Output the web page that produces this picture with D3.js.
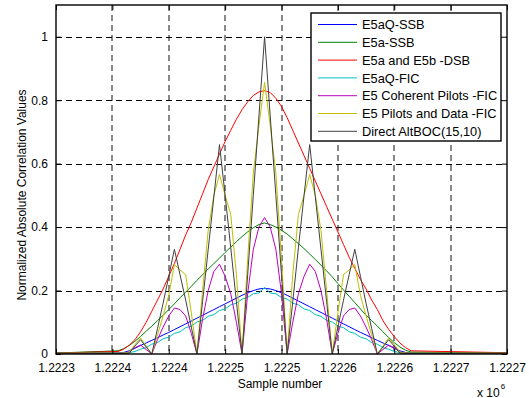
<!DOCTYPE html>
<html>
<head>
<meta charset="utf-8">
<script src="https://cdn.jsdelivr.net/npm/d3@7"></script>
<style>
  html, body { margin: 0; padding: 0; background: #fff; }
  svg { display: block; font-family: "Liberation Sans", Arial, Helvetica, sans-serif; }
</style>
</head>
<body>
<svg id="chart" width="529" height="398"></svg>
<script>
// Sample numbers (x axis); dense around the correlation peak
const sampleNumbers = [
  1222300,
  1222355, 1222360, 1222365, 1222370, 1222375, 1222380, 1222385, 1222390, 1222395,
  1222400, 1222405, 1222410, 1222415, 1222420, 1222425, 1222430, 1222435, 1222440,
  1222445, 1222450, 1222455, 1222460, 1222465, 1222470, 1222475, 1222480, 1222485,
  1222490, 1222495, 1222500, 1222505, 1222510, 1222515, 1222520, 1222525, 1222530,
  1222535, 1222540, 1222545, 1222550, 1222555, 1222560, 1222565, 1222570, 1222575,
  1222580, 1222585, 1222590, 1222595, 1222600, 1222605, 1222610, 1222615,
  1222700
];

const e5aqSsb = [
  0.003,
  0.004, 0.005, 0.010, 0.018, 0.027, 0.035, 0.043, 0.051, 0.060,
  0.068, 0.077, 0.086, 0.095, 0.104, 0.113, 0.122, 0.131, 0.140,
  0.149, 0.158, 0.167, 0.176, 0.185, 0.193, 0.200, 0.205, 0.207,
  0.205, 0.200, 0.193, 0.185, 0.176, 0.167, 0.158, 0.149, 0.140,
  0.131, 0.122, 0.113, 0.104, 0.095, 0.086, 0.077, 0.068, 0.060,
  0.051, 0.043, 0.035, 0.027, 0.018, 0.010, 0.005, 0.004,
  0.003
];

const e5aSsb = [
  0.003,
  0.010, 0.017, 0.027, 0.040, 0.055, 0.072, 0.088, 0.105, 0.122,
  0.140, 0.158, 0.177, 0.195, 0.213, 0.232, 0.250, 0.268, 0.285,
  0.302, 0.320, 0.337, 0.354, 0.370, 0.385, 0.398, 0.408, 0.413,
  0.408, 0.400, 0.390, 0.378, 0.363, 0.348, 0.332, 0.315, 0.298,
  0.280, 0.262, 0.243, 0.222, 0.202, 0.182, 0.162, 0.142, 0.122,
  0.105, 0.088, 0.070, 0.052, 0.036, 0.022, 0.012, 0.006,
  0.004
];

const e5abDsb = [
  0.003,
  0.008, 0.015, 0.028, 0.045, 0.070, 0.100, 0.135, 0.170, 0.205,
  0.245, 0.285, 0.330, 0.375, 0.415, 0.460, 0.505, 0.550, 0.590,
  0.630, 0.670, 0.705, 0.740, 0.770, 0.795, 0.815, 0.826, 0.830,
  0.824, 0.806, 0.780, 0.745, 0.705, 0.665, 0.625, 0.585, 0.545,
  0.505, 0.465, 0.425, 0.385, 0.345, 0.305, 0.270, 0.235, 0.205,
  0.170, 0.140, 0.105, 0.078, 0.055, 0.035, 0.020, 0.010,
  0.004
];

const e5aqFic = [
  0.002,
  0.003, 0.003, 0.004, 0.008, 0.015, 0.020, 0.031, 0.036, 0.048,
  0.053, 0.065, 0.070, 0.083, 0.088, 0.101, 0.106, 0.119, 0.124,
  0.137, 0.142, 0.155, 0.160, 0.173, 0.178, 0.190, 0.192, 0.210,
  0.192, 0.190, 0.178, 0.173, 0.160, 0.155, 0.142, 0.137, 0.124,
  0.119, 0.106, 0.101, 0.088, 0.083, 0.070, 0.065, 0.053, 0.048,
  0.036, 0.031, 0.020, 0.015, 0.008, 0.004, 0.003, 0.003,
  0.002
];

const e5CoherentPilotsFic = [
  0.002,
  0.002, 0.003, 0.006, 0.020, 0.028, 0.014, 0.000, 0.045, 0.085,
  0.120, 0.145, 0.140, 0.120, 0.065, 0.000, 0.110, 0.200, 0.260,
  0.283, 0.245, 0.190, 0.100, 0.000, 0.190, 0.330, 0.400, 0.430,
  0.400, 0.330, 0.190, 0.000, 0.100, 0.190, 0.245, 0.283, 0.260,
  0.200, 0.110, 0.000, 0.065, 0.120, 0.140, 0.145, 0.120, 0.085,
  0.045, 0.000, 0.014, 0.028, 0.020, 0.006, 0.003, 0.002,
  0.002
];

const e5PilotsDataFic = [
  0.003,
  0.003, 0.003, 0.006, 0.030, 0.050, 0.025, 0.000, 0.060, 0.120,
  0.185, 0.282, 0.265, 0.250, 0.130, 0.000, 0.200, 0.390, 0.500,
  0.566, 0.500, 0.440, 0.250, 0.000, 0.300, 0.570, 0.720, 0.856,
  0.720, 0.570, 0.300, 0.000, 0.250, 0.440, 0.500, 0.566, 0.500,
  0.390, 0.200, 0.000, 0.130, 0.250, 0.265, 0.282, 0.185, 0.120,
  0.060, 0.000, 0.025, 0.050, 0.030, 0.006, 0.003, 0.003,
  0.003
];

const directAltBoc = [
  0.003,
  0.002, 0.002, 0.003, 0.025, 0.045, 0.022, 0.000, 0.080, 0.160,
  0.245, 0.330, 0.250, 0.170, 0.085, 0.000, 0.165, 0.330, 0.495,
  0.660, 0.500, 0.335, 0.165, 0.000, 0.250, 0.500, 0.750, 1.000,
  0.750, 0.500, 0.250, 0.000, 0.165, 0.335, 0.500, 0.660, 0.495,
  0.330, 0.165, 0.000, 0.085, 0.170, 0.250, 0.330, 0.245, 0.160,
  0.080, 0.000, 0.022, 0.045, 0.025, 0.003, 0.002, 0.002,
  0.003
];

const seriesNames = [
  "E5aQ-SSB",
  "E5a-SSB",
  "E5a and E5b -DSB",
  "E5aQ-FIC",
  "E5 Coherent Pilots -FIC",
  "E5 Pilots and Data -FIC",
  "Direct AltBOC(15,10)"
];
const seriesValues = [e5aqSsb, e5aSsb, e5abDsb, e5aqFic, e5CoherentPilotsFic, e5PilotsDataFic, directAltBoc];
const seriesColors = ["#0000ff", "#008000", "#ff0000", "#00bfbf", "#bf00bf", "#bfbf00", "#404040"];

const xTickValues = [1222300, 1222350, 1222400, 1222450, 1222500, 1222550, 1222600, 1222650, 1222700];
const xTickLabels = ["1.2223", "1.2224", "1.2224", "1.2225", "1.2225", "1.2226", "1.2226", "1.2227", "1.2227"];
const yTickValues = [0, 0.2, 0.4, 0.6, 0.8, 1];
const yTickLabels = ["0", "0.2", "0.4", "0.6", "0.8", "1"];

const svg = d3.select("#chart");
const plot = { left: 56, right: 507, top: 5, bottom: 354 };

const x = d3.scaleLinear().domain([1222300, 1222700]).range([plot.left, plot.right]);
const y = d3.scaleLinear().domain([0, 1.1]).range([plot.bottom, plot.top]);

const fontSize = 12;

// dashed grid
const grid = svg.append("g").attr("stroke", "#000").attr("stroke-width", 1)
  .attr("stroke-dasharray", "6,4").attr("fill", "none");
xTickValues.slice(1, -1).forEach(v => {
  const px = Math.round(x(v));
  grid.append("line").attr("x1", px).attr("x2", px).attr("y1", plot.top).attr("y2", plot.bottom)
    .attr("stroke", "#111");
});
yTickValues.slice(1).forEach(v => {
  const py = Math.round(y(v)) + 0.5;
  grid.append("line").attr("x1", plot.left).attr("x2", plot.right).attr("y1", py).attr("y2", py);
});

// curves, drawn in order so the direct AltBOC trace is on top
const line = d3.line().x((d, i) => x(sampleNumbers[i])).y(d => y(d));
const curves = svg.append("g").attr("fill", "none").attr("stroke-width", 1).attr("stroke-linejoin", "round");
seriesValues.forEach((vals, k) => {
  curves.append("path").attr("d", line(vals)).attr("stroke", seriesColors[k]);
});

// axes with inward ticks on all four sides
const tickLen = 5;
const xAxisBottom = d3.axisBottom(x).tickValues(xTickValues).tickSize(-tickLen).tickPadding(9)
  .tickFormat((d, i) => xTickLabels[i]);
const xAxisTop = d3.axisTop(x).tickValues(xTickValues).tickSize(-tickLen).tickFormat("");
const yAxisLeft = d3.axisLeft(y).tickValues(yTickValues).tickSize(-tickLen).tickPadding(8)
  .tickFormat((d, i) => yTickLabels[i]);
const yAxisRight = d3.axisRight(y).tickValues(yTickValues).tickSize(-tickLen).tickFormat("");

function styleAxis(g) {
  g.select(".domain").remove();
  g.selectAll(".tick line").attr("stroke", "#000");
  g.selectAll(".tick text").attr("fill", "#000").attr("font-size", fontSize)
    .attr("font-family", "'Liberation Sans', Arial, sans-serif");
}
svg.append("g").attr("transform", `translate(0,${plot.bottom})`).call(xAxisBottom).call(styleAxis);
svg.append("g").attr("transform", `translate(0,${plot.top})`).call(xAxisTop).call(styleAxis);
svg.append("g").attr("transform", `translate(${plot.left},0)`).call(yAxisLeft).call(styleAxis);
svg.append("g").attr("transform", `translate(${plot.right},0)`).call(yAxisRight).call(styleAxis);

// frame
svg.append("rect")
  .attr("x", plot.left).attr("y", plot.top)
  .attr("width", plot.right - plot.left).attr("height", plot.bottom - plot.top)
  .attr("fill", "none").attr("stroke", "#000").attr("stroke-width", 1.4);

// axis titles
svg.append("text").attr("x", 280).attr("y", 388).attr("text-anchor", "middle")
  .attr("font-size", fontSize).text("Sample number");
svg.append("text").attr("transform", "translate(26,195) rotate(-90)").attr("text-anchor", "middle")
  .attr("font-size", fontSize).text("Normalized Absolute Correlation Values");

// exponent label
const expo = svg.append("text").attr("x", 477).attr("y", 396.5).attr("font-size", fontSize);
expo.append("tspan").text("x 10");
expo.append("tspan").attr("font-size", 8).attr("dx", 1).attr("dy", -8).text("6");

// legend
const legendFont = 12.8;
const legend = svg.append("g").attr("transform", "translate(311,13)");
legend.append("rect").attr("x", 0).attr("y", 0).attr("width", 190).attr("height", 128)
  .attr("fill", "#fff").attr("stroke", "#000").attr("stroke-width", 1.4);
seriesNames.forEach((name, k) => {
  const cy = 11.5 + k * 17.8;
  legend.append("line").attr("x1", 7).attr("x2", 46).attr("y1", cy).attr("y2", cy)
    .attr("stroke", seriesColors[k]).attr("stroke-width", 1);
  legend.append("text").attr("x", 51).attr("y", cy).attr("dy", "0.36em")
    .attr("font-size", legendFont).attr("fill", "#000").text(name);
});
</script>
</body>
</html>
